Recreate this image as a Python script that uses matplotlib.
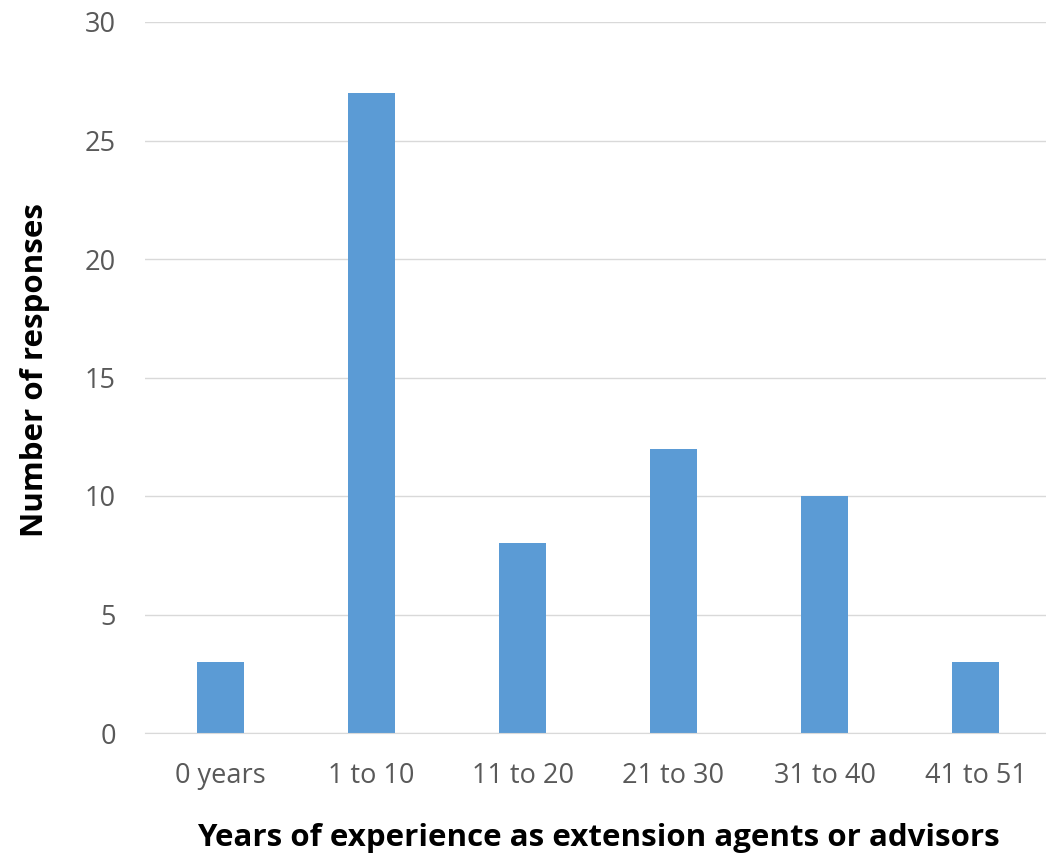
import matplotlib
matplotlib.use("Agg")
import matplotlib.pyplot as plt

categories = ["0 years", "1 to 10", "11 to 20", "21 to 30", "31 to 40", "41 to 51"]
values = [3, 27, 8, 12, 10, 3]
yticks = [0, 5, 10, 15, 20, 25, 30]

plt.rcParams['font.family'] = ['Open Sans', 'DejaVu Sans']

fig = plt.figure(figsize=(10.46, 8.59), dpi=100)
ax = fig.add_axes([145/1046, 1-733/859, (1051-145)/1046, (733-22)/859])

x = list(range(len(categories)))
ax.bar(x, values, width=0.31, color="#5B9BD5", zorder=3)
ax.set_xlim(-0.5, 5.5)
ax.set_ylim(0, 30)
ax.set_yticks(yticks)
ax.set_xticks(x)
ax.set_xticklabels(categories)
ax.tick_params(axis='both', length=0, labelsize=19.5, colors="#595959")
ax.tick_params(axis='x', pad=21)
ax.tick_params(axis='y', pad=21)
ax.grid(axis='y', color="#D9D9D9", linewidth=1, zorder=0)
for s in ["top", "right", "left"]:
    ax.spines[s].set_visible(False)
ax.spines["bottom"].set_color("#D9D9D9")
ax.spines["bottom"].set_zorder(4)

fig.text(35/1046, 1-370/859, "Number of responses", rotation=90, ha="center", va="center",
         fontsize=22.5, fontweight="bold", color="black")
fig.text(598/1046, 1-838/859, "Years of experience as extension agents or advisors",
         ha="center", va="center", fontsize=22.5, fontweight="bold", color="black")

fig.savefig("out.png", dpi=100)
